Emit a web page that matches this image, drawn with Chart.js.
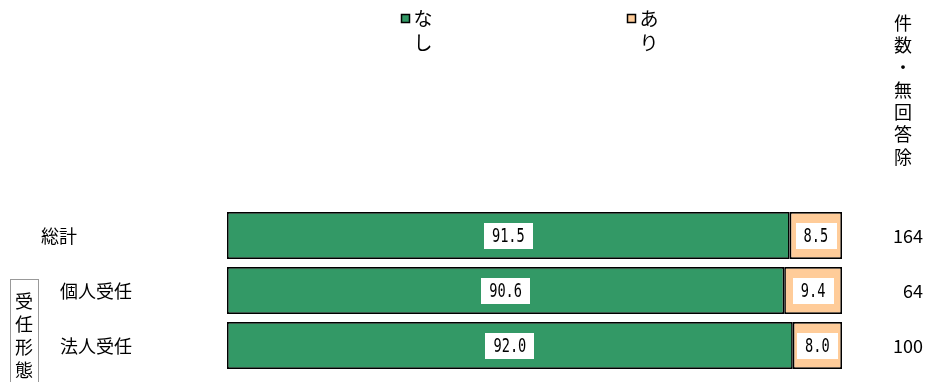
<!DOCTYPE html>
<html>
<head>
<meta charset="utf-8">
<script src="https://cdn.jsdelivr.net/npm/chart.js@4/dist/chart.umd.min.js"></script>
<style>
  html, body { margin: 0; padding: 0; background: #fff; }
  #wrap { width: 927px; height: 382px; position: relative; }
</style>
</head>
<body>
<div id="wrap"><canvas id="c" width="927" height="382"></canvas></div>
<script>
// Survey breakdown: none / some, by contract type
const categories = ['総計', '個人受任', '法人受任'];
const nashi = [91.5, 90.6, 92.0];
const ari = [8.5, 9.4, 8.0];
const counts = [164, 64, 100];
const seriesNames = ['なし', 'あり'];
const groupLabel = '受任形態';
const countHeader = '件数・無回答除';

const GREEN = '#339966';
const ORANGE = '#FFCC99';
const JP = '"Noto Sans CJK JP", "Noto Sans", sans-serif';

// Draws vertically stacked characters centred on x
function drawVertical(ctx, text, x, y0, step) {
  [...text].forEach((ch, i) => ctx.fillText(ch, x, y0 + i * step));
}

const annotate = {
  id: 'annotate',
  afterDatasetsDraw(chart) {
    const ctx = chart.ctx;
    // value boxes in each segment
    chart.data.datasets.forEach((ds, di) => {
      const meta = chart.getDatasetMeta(di);
      meta.data.forEach((bar, i) => {
        const v = ds.data[i];
        const txt = v.toFixed(1);
        const cx = (bar.x + bar.base) / 2;
        const cy = bar.y;
        ctx.save();
        ctx.font = '19.5px "DejaVu Sans Mono", monospace';
        const sx = 0.7;
        const tw = ctx.measureText(txt).width * sx;
        const w = tw + 16, h = 26;
        ctx.fillStyle = '#fff';
        ctx.fillRect(Math.round(cx - w / 2), Math.round(cy - h / 2), Math.round(w), h);
        ctx.fillStyle = '#000';
        ctx.textAlign = 'center';
        ctx.textBaseline = 'middle';
        ctx.translate(cx, cy + 1);
        ctx.scale(sx, 1);
        ctx.fillText(txt, 0, 0);
        ctx.restore();
      });
    });
  },
  afterDraw(chart) {
    const ctx = chart.ctx;
    const ys = chart.scales.y;
    ctx.save();
    ctx.fillStyle = '#000';
    ctx.textBaseline = 'middle';

    // category names
    ctx.font = '18px ' + JP;
    ctx.textAlign = 'left';
    categories.forEach((c, i) => {
      const x = i === 0 ? 41 : 60;
      ctx.fillText(c, x, ys.getPixelForValue(i) + 1);
    });

    // group bracket box
    ctx.strokeStyle = '#999';
    ctx.lineWidth = 1;
    ctx.strokeRect(10.5, 279.5, 28, 110);
    ctx.textAlign = 'center';
    drawVertical(ctx, groupLabel, 24, 301, 23);

    // counts column
    ctx.textAlign = 'right';
    ctx.font = '18px ' + JP;
    counts.forEach((n, i) => ctx.fillText(String(n), 923, ys.getPixelForValue(i) + 1));

    // count header, vertical
    ctx.textAlign = 'center';
    ctx.font = '18px ' + JP;
    drawVertical(ctx, countHeader, 903, 23, 22.3);

    // legend
    const legendX = [401, 627];
    const colors = [GREEN, ORANGE];
    seriesNames.forEach((name, i) => {
      const x = legendX[i];
      ctx.fillStyle = colors[i];
      ctx.fillRect(x, 14, 9, 9);
      ctx.strokeStyle = '#000';
      ctx.lineWidth = 1.5;
      ctx.strokeRect(x + 0.5, 14.5, 8, 8);
      ctx.fillStyle = '#000';
      ctx.textAlign = 'center';
      ctx.font = '19px ' + JP;
      drawVertical(ctx, name, x + 22, 19, 24);
    });
    ctx.restore();
  }
};

new Chart(document.getElementById('c'), {
  type: 'bar',
  data: {
    labels: categories,
    datasets: [
      { label: seriesNames[0], data: nashi, backgroundColor: GREEN },
      { label: seriesNames[1], data: ari, backgroundColor: ORANGE }
    ].map(d => Object.assign(d, {
      borderColor: '#000',
      borderWidth: 1.7,
      borderSkipped: false,
      barPercentage: 0.855,
      categoryPercentage: 1
    }))
  },
  options: {
    indexAxis: 'y',
    responsive: false,
    animation: false,
    devicePixelRatio: 1,
    layout: { padding: { left: 227, right: 85, top: 208, bottom: 9 } },
    plugins: { legend: { display: false }, tooltip: { enabled: false } },
    scales: {
      x: { stacked: true, min: 0, max: 100, display: false },
      y: { stacked: true, display: false }
    }
  },
  plugins: [annotate]
});
</script>
</body>
</html>
